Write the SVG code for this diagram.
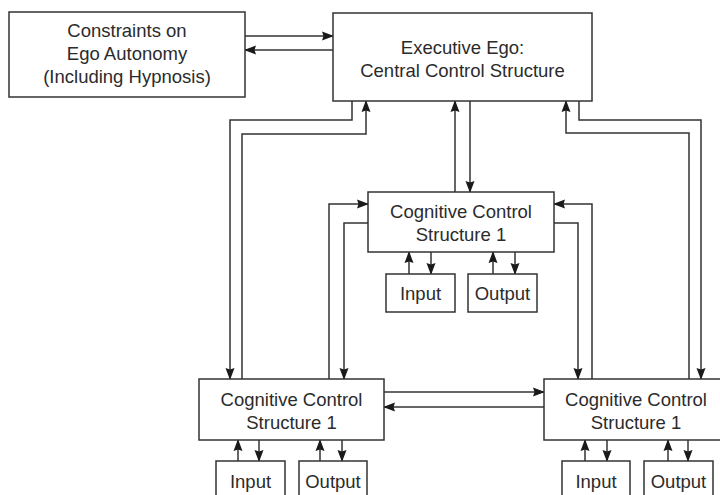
<svg xmlns="http://www.w3.org/2000/svg" width="720" height="495" viewBox="0 0 720 495">
<style>
.box{fill:#fff;stroke:#333;stroke-width:1.5}
.ln{fill:none;stroke:#333;stroke-width:1.5;marker-end:url(#ah)}
text{font-family:"Liberation Sans",Arial,sans-serif;font-size:18.5px;fill:#2b2b2b;text-anchor:middle}
</style>
<defs>
<marker id="ah" markerUnits="userSpaceOnUse" markerWidth="12" markerHeight="10" refX="11" refY="5" orient="auto">
<path d="M0,0.5 L12,5 L0,9.5 L1.5,5 Z" fill="#1a1a1a"/>
</marker>
</defs>
<g id="connectors">
<path class="ln" d="M245,36 H333"/>
<path class="ln" d="M333,50 H245"/>
<path class="ln" d="M352,101 V120 H230 V379"/>
<path class="ln" d="M242,379 V134 H366 V101"/>
<path class="ln" d="M455,192 V101"/>
<path class="ln" d="M470,101 V192"/>
<path class="ln" d="M579,101 V120 H701 V379"/>
<path class="ln" d="M689,379 V133 H566 V101"/>
<path class="ln" d="M329,379 V204 H368"/>
<path class="ln" d="M368,223 H344 V379"/>
<path class="ln" d="M592,379 V204 H554"/>
<path class="ln" d="M554,223 H578 V379"/>
<path class="ln" d="M384,392 H544"/>
<path class="ln" d="M544,407 H384"/>
<path class="ln" d="M409,274 V252"/>
<path class="ln" d="M431,252 V274"/>
<path class="ln" d="M493,274 V252"/>
<path class="ln" d="M515,252 V274"/>
<path class="ln" d="M238,461 V440"/>
<path class="ln" d="M259,440 V461"/>
<path class="ln" d="M320,461 V440"/>
<path class="ln" d="M342,440 V461"/>
<path class="ln" d="M585,461 V440"/>
<path class="ln" d="M607,440 V461"/>
<path class="ln" d="M668,461 V440"/>
<path class="ln" d="M688,440 V461"/>
</g>
<g id="constraints">
<rect class="box" x="9" y="12" width="236" height="85"/>
<text x="127" y="37">Constraints on</text>
<text x="127" y="60">Ego Autonomy</text>
<text x="127" y="83">(Including Hypnosis)</text>
</g>
<g id="executive">
<rect class="box" x="333" y="13" width="259" height="88"/>
<text x="462.5" y="54">Executive Ego:</text>
<text x="462.5" y="77">Central Control Structure</text>
</g>
<g id="ccs-mid">
<rect class="box" x="368" y="192" width="186" height="60"/>
<text x="461" y="218">Cognitive Control</text>
<text x="461" y="241">Structure 1</text>
</g>
<g id="input-mid">
<rect class="box" x="386" y="274" width="69" height="38"/>
<text x="420.5" y="300">Input</text>
</g>
<g id="output-mid">
<rect class="box" x="468" y="274" width="69" height="38"/>
<text x="502.5" y="300">Output</text>
</g>
<g id="ccs-left">
<rect class="box" x="199" y="379" width="185" height="61"/>
<text x="291.5" y="406">Cognitive Control</text>
<text x="291.5" y="429">Structure 1</text>
</g>
<g id="input-left">
<rect class="box" x="216" y="461" width="69" height="40"/>
<text x="250.5" y="488">Input</text>
</g>
<g id="output-left">
<rect class="box" x="299" y="461" width="68" height="40"/>
<text x="333" y="488">Output</text>
</g>
<g id="ccs-right">
<rect class="box" x="544" y="379" width="186" height="61"/>
<text x="636" y="406">Cognitive Control</text>
<text x="636" y="429">Structure 1</text>
</g>
<g id="input-right">
<rect class="box" x="562" y="461" width="68" height="40"/>
<text x="596" y="488">Input</text>
</g>
<g id="output-right">
<rect class="box" x="644" y="461" width="69" height="40"/>
<text x="678.5" y="488">Output</text>
</g>
</svg>
